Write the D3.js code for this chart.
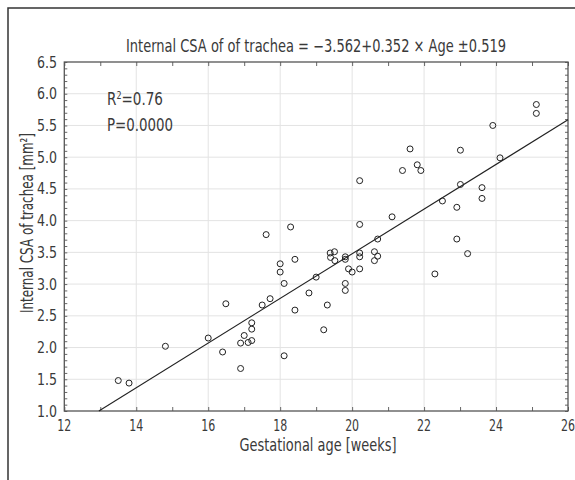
<!DOCTYPE html>
<html><head><meta charset="utf-8">
<script src="https://cdn.jsdelivr.net/npm/d3@7"></script>
<style>body{margin:0;background:#fff}svg{display:block}text{font-family:"DejaVu Sans Condensed","Liberation Sans Narrow",sans-serif;fill:#3a3a3a}</style>
</head><body><svg id="c" width="575" height="480"></svg>
<script>
const ageWeeks = [13.50,13.80,14.81,16.00,16.40,16.49,16.90,16.90,17.00,17.11,17.21,17.21,17.21,17.50,17.61,17.72,18.00,18.00,18.11,18.11,18.29,18.41,18.41,18.80,19.00,19.21,19.31,19.39,19.51,19.40,19.52,19.81,19.81,19.81,19.81,19.90,20.00,20.21,20.21,20.21,20.21,20.21,20.62,20.71,20.62,20.71,21.11,21.40,21.61,21.81,21.91,22.30,22.51,22.91,22.91,23.01,23.01,23.21,23.61,23.61,23.91,24.11,25.12,25.12];
const csaValues = [1.48,1.44,2.02,2.15,1.93,2.69,2.07,1.67,2.19,2.08,2.11,2.29,2.39,2.67,3.78,2.77,3.32,3.19,3.01,1.87,3.90,3.39,2.59,2.86,3.11,2.28,2.67,3.49,3.51,3.42,3.37,3.43,3.39,3.01,2.90,3.24,3.19,3.49,3.43,3.24,3.94,4.63,3.51,3.44,3.37,3.71,4.06,4.79,5.13,4.88,4.79,3.16,4.31,4.21,3.71,5.11,4.57,3.48,4.52,4.35,5.50,4.99,5.83,5.69];
const xTicks = [12,14,16,18,20,22,24,26];
const yTicks = [1.0,1.5,2.0,2.5,3.0,3.5,4.0,4.5,5.0,5.5,6.0,6.5];
const fitIntercept = -3.562, fitSlope = 0.352;
const titleText = "Internal CSA of of trachea = \u22123.562+0.352 \u00d7 Age \u00b10.519";
const xTitle = "Gestational age [weeks]";
const yTitle = "Internal CSA of trachea [mm\u00b2]";

const svg = d3.select("#c");
const L=64.3,R=568,T=62,B=411;
const x = d3.scaleLinear().domain([12,26]).range([L,R]);
const y = d3.scaleLinear().domain([1,6.5]).range([B,T]);

// outer frame
svg.append("rect").attr("x",8).attr("y",8).attr("width",600).attr("height",500)
  .attr("fill","none").attr("stroke","#333").attr("stroke-width",1.5);

// grid
const g = svg.append("g");
g.selectAll(".gx").data(xTicks.slice(1,-1)).join("line")
  .attr("x1",d=>x(d)).attr("x2",d=>x(d)).attr("y1",T).attr("y2",B)
  .attr("stroke","#e3e3e3").attr("stroke-width",1);
g.selectAll(".gy").data(yTicks.slice(1,-1)).join("line")
  .attr("y1",d=>y(d)).attr("y2",d=>y(d)).attr("x1",L).attr("x2",R)
  .attr("stroke","#e3e3e3").attr("stroke-width",1);

// axes with inward ticks
const axB = d3.axisBottom(x).tickValues(d3.range(12,27,1)).tickSize(-4).tickFormat("");
const axT = d3.axisTop(x).tickValues(d3.range(12,27,1)).tickSize(-4).tickFormat("");
const yMinor = d3.range(10,66,1).map(v=>v/10);
const axL = d3.axisLeft(y).tickValues(yMinor).tickSize(-3).tickFormat("");
const axR = d3.axisRight(y).tickValues(yMinor).tickSize(-3).tickFormat("");
function style(sel){sel.select(".domain").remove();sel.selectAll("line").attr("stroke","#666");}
svg.append("g").attr("transform",`translate(0,${B})`).call(axB).call(style);
svg.append("g").attr("transform",`translate(0,${T})`).call(axT).call(style);
svg.append("g").attr("transform",`translate(${L},0)`).call(axL).call(style);
svg.append("g").attr("transform",`translate(${R},0)`).call(axR).call(style);
svg.append("rect").attr("x",L).attr("y",T).attr("width",R-L).attr("height",B-T)
  .attr("fill","none").attr("stroke","#555").attr("stroke-width",1.3);

// tick labels
svg.selectAll(".xl").data(xTicks).join("text")
  .attr("x",d=>x(d)).attr("y",431).attr("text-anchor","middle").attr("font-size",15.5)
  .attr("textLength",14).attr("lengthAdjust","spacingAndGlyphs").text(d=>d);
svg.selectAll(".yl").data(yTicks).join("text")
  .attr("x",57).attr("y",d=>y(d)+5.5).attr("text-anchor","end").attr("font-size",15.5)
  .attr("textLength",20).attr("lengthAdjust","spacingAndGlyphs").text(d=>d.toFixed(1));

// fit line
const x0 = (1-fitIntercept)/fitSlope;
svg.append("line").attr("x1",x(x0)).attr("y1",y(fitIntercept+fitSlope*x0))
  .attr("x2",x(26)).attr("y2",y(fitIntercept+fitSlope*26))
  .attr("stroke","#222").attr("stroke-width",1.1);

// points
svg.selectAll(".pt").data(ageWeeks.map((a,i)=>[a,csaValues[i]])).join("circle")
  .attr("cx",d=>x(d[0])).attr("cy",d=>y(d[1])).attr("r",3)
  .attr("fill","none").attr("stroke","#222").attr("stroke-width",1);

// titles
svg.append("text").attr("x",316).attr("y",52).attr("text-anchor","middle").attr("font-size",17)
  .attr("textLength",380).attr("lengthAdjust","spacingAndGlyphs").text(titleText);
svg.append("text").attr("x",318).attr("y",451).attr("text-anchor","middle").attr("font-size",17)
  .attr("textLength",157).attr("lengthAdjust","spacingAndGlyphs").text(xTitle);
svg.append("text").attr("transform","translate(33,223) rotate(-90)").attr("text-anchor","middle").attr("font-size",17)
  .attr("textLength",180).attr("lengthAdjust","spacingAndGlyphs").text(yTitle);
const st = svg.append("text").attr("x",107).attr("y",105).attr("font-size",17)
  .attr("textLength",56).attr("lengthAdjust","spacingAndGlyphs");
st.append("tspan").text("R");
st.append("tspan").attr("font-size",10).attr("dy",-6).text("2");
st.append("tspan").attr("dy",6).text("=0.76");
svg.append("text").attr("x",107).attr("y",131).attr("font-size",17)
  .attr("textLength",66).attr("lengthAdjust","spacingAndGlyphs").text("P=0.0000");
</script></body></html>
